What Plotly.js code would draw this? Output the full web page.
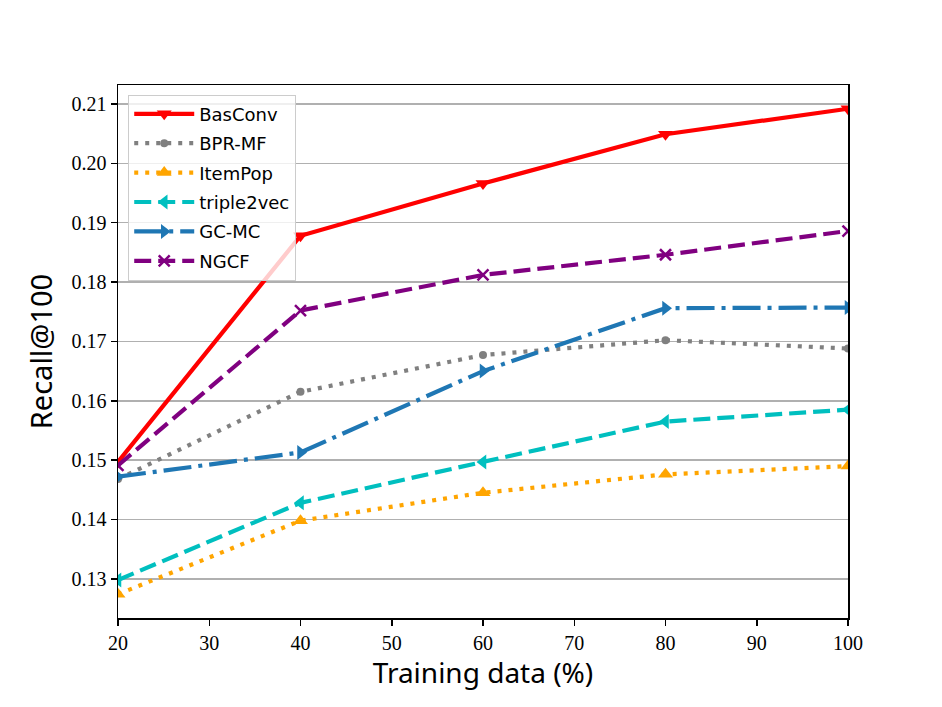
<!DOCTYPE html>
<html>
<head>
<meta charset="utf-8">
<script src="https://cdn.plot.ly/plotly-3.0.1.min.js"></script>
<style>html,body{margin:0;padding:0;background:#fff;}#chart{width:942px;height:707px;}</style>
</head>
<body>
<div id="chart"></div>
<script>
var trainingData = [20, 40, 60, 80, 100];
var basConv    = [0.1497, 0.1878, 0.1966, 0.2049, 0.2092];
var bprMF      = [0.1468, 0.1615, 0.1677, 0.1702, 0.1688];
var itemPop    = [0.1274, 0.1398, 0.1445, 0.1476, 0.1490];
var triple2vec = [0.1298, 0.1428, 0.1497, 0.1565, 0.1585];
var gcMC       = [0.1472, 0.1513, 0.1650, 0.1756, 0.1757];
var ngcf       = [0.1491, 0.1752, 0.1812, 0.1846, 0.1886];
var yTicks = [0.13, 0.14, 0.15, 0.16, 0.17, 0.18, 0.19, 0.20, 0.21];
var xTicks = [20, 30, 40, 50, 60, 70, 80, 90, 100];

var LW = 4.2;
function tr(name, y, color, dash, symbol, msize, extra) {
  var t = {
    x: trainingData, y: y, name: name, legendgroup: name, type: 'scatter', mode: 'lines+markers',
    line: {color: color, width: LW, dash: dash},
    marker: {symbol: symbol, size: msize, color: color, line: {width: 0, color: color}},
    cliponaxis: true
  };
  if (extra) t.marker.line = extra;
  return t;
}
var data = [
  tr('BasConv', basConv, '#ff0000', 'solid', 'triangle-down', 13),
  tr('BPR-MF', bprMF, '#808080', '4px,7px', 'circle', 8),
  tr('ItemPop', itemPop, '#ffa500', '4px,7px', 'triangle-up', 13),
  tr('triple2vec', triple2vec, '#00bfbf', '17px,7px', 'triangle-left', 13),
  tr('GC-MC', gcMC, '#1f77b4', '28px,7px,4px,7px', 'triangle-right', 13),
  tr('NGCF', ngcf, '#800080', '17px,7px', 'x-thin', 11, {width: 2.5, color: '#800080'})
];

var layout = {
  width: 942, height: 707,
  margin: {l: 118, r: 94, t: 85, b: 89},
  paper_bgcolor: '#ffffff', plot_bgcolor: '#ffffff',
  showlegend: true,
  xaxis: {
    range: [20, 100], tickvals: xTicks, ticktext: xTicks.map(String),
    ticks: 'outside', ticklen: 6, tickwidth: 1.5, tickcolor: '#000',
    showline: true, linecolor: '#000', linewidth: 1.5, mirror: true,
    showgrid: false, zeroline: false,
    tickfont: {family: 'Liberation Serif, DejaVu Serif, serif', size: 20, color: '#000'},
    title: {text: 'Training data (%)', font: {family: 'Noto Sans, DejaVu Sans, sans-serif', size: 28, color: '#000'}, standoff: 8}
  },
  yaxis: {
    range: [0.1234, 0.2132], tickvals: yTicks, ticktext: yTicks.map(function(v){return v.toFixed(2);}),
    ticks: 'outside', ticklen: 6, tickwidth: 1.5, tickcolor: '#000',
    showline: true, linecolor: '#000', linewidth: 1.5, mirror: true,
    showgrid: true, gridcolor: '#b0b0b0', gridwidth: 1.5, zeroline: false,
    tickfont: {family: 'Liberation Serif, DejaVu Serif, serif', size: 20, color: '#000'},
    title: {text: 'Recall@100', font: {family: 'Noto Sans, DejaVu Sans, sans-serif', size: 29, color: '#000'}, standoff: 10}
  },
  legend: {
    x: 0.014, y: 0.982, xanchor: 'left', yanchor: 'top',
    bgcolor: 'rgba(255,255,255,0.8)', bordercolor: '#cccccc', borderwidth: 1,
    font: {family: 'DejaVu Sans, Noto Sans, sans-serif', size: 18, color: '#000'},
    tracegroupgap: 3, itemwidth: 60
  }
};
Plotly.newPlot('chart', data, layout, {displayModeBar: false, staticPlot: true});
</script>
</body>
</html>
